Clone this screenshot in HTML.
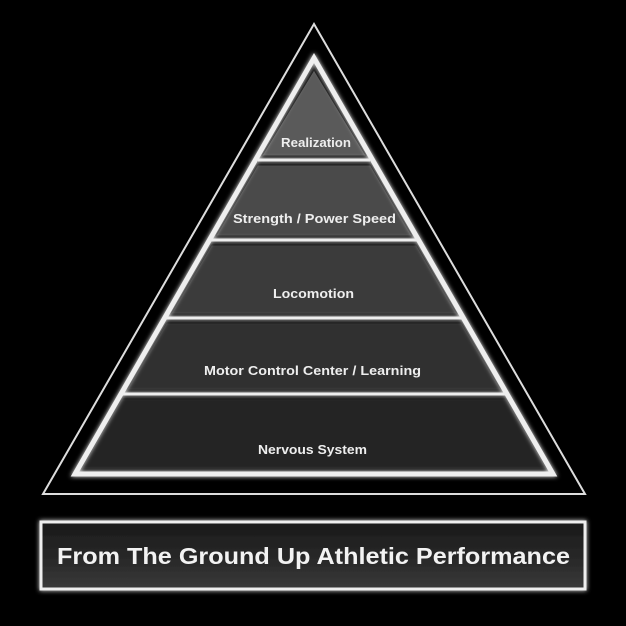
<!DOCTYPE html>
<html><head><style>body{margin:0;background:#000}svg{display:block}</style></head><body>
<svg width="626" height="626" viewBox="0 0 626 626" xmlns="http://www.w3.org/2000/svg">
<defs>
<filter id="g" x="-20%" y="-20%" width="140%" height="140%"><feGaussianBlur stdDeviation="2.5" result="b"/><feMerge><feMergeNode in="b"/><feMergeNode in="SourceGraphic"/></feMerge></filter>
<linearGradient id="bx" x1="0" y1="0" x2="0" y2="1"><stop offset="0" stop-color="#1a1a1a"/><stop offset="0.6" stop-color="#2a2a2a"/><stop offset="1" stop-color="#3a3a3a"/></linearGradient>
</defs>
<rect width="626" height="626" fill="#000"/>
<polygon points="314,24 585,494 43,494" fill="#000" stroke="#ddd" stroke-width="2"/>
<g stroke="#111" stroke-width="3">
<polygon points="314,68 368,157 260,157" fill="#5a5a5a"/>
<polygon points="257,164 371,164 414,237 214,237" fill="#4a4a4a"/>
<polygon points="211,244 417,244 459,315 169,315" fill="#3b3b3b"/>
<polygon points="166,322 462,322 503,391 125,391" fill="#303030"/>
<polygon points="121,398 507,398 549,470 79,470" fill="#242424"/>
</g>
<g stroke="#eee" fill="none" filter="url(#g)">
<polygon points="314,58 553,474 75,474" stroke-width="5"/>
<g stroke-width="3">
<line x1="258" y1="160" x2="370" y2="160"/>
<line x1="211" y1="240" x2="417" y2="240"/>
<line x1="166" y1="318" x2="462" y2="318"/>
<line x1="123" y1="394" x2="505" y2="394"/>
</g>
</g>
<g fill="#eee" font-family="Liberation Sans, sans-serif" font-weight="bold" font-size="13" lengthAdjust="spacingAndGlyphs">
<text x="281" y="147" textLength="70" lengthAdjust="spacingAndGlyphs">Realization</text>
<text x="233" y="223" textLength="163" lengthAdjust="spacingAndGlyphs">Strength / Power Speed</text>
<text x="273" y="298" textLength="81" lengthAdjust="spacingAndGlyphs">Locomotion</text>
<text x="204" y="375" textLength="217" lengthAdjust="spacingAndGlyphs">Motor Control Center / Learning</text>
<text x="258" y="454" textLength="109" lengthAdjust="spacingAndGlyphs">Nervous System</text>
</g>
<rect x="41" y="522" width="544" height="67" fill="url(#bx)" stroke="#eee" stroke-width="3" filter="url(#g)"/>
<text x="57" y="564" textLength="513" lengthAdjust="spacingAndGlyphs" fill="#f2f2f2" font-family="Liberation Sans, sans-serif" font-weight="bold" font-size="23">From The Ground Up  Athletic Performance</text>
</svg>
</body></html>
